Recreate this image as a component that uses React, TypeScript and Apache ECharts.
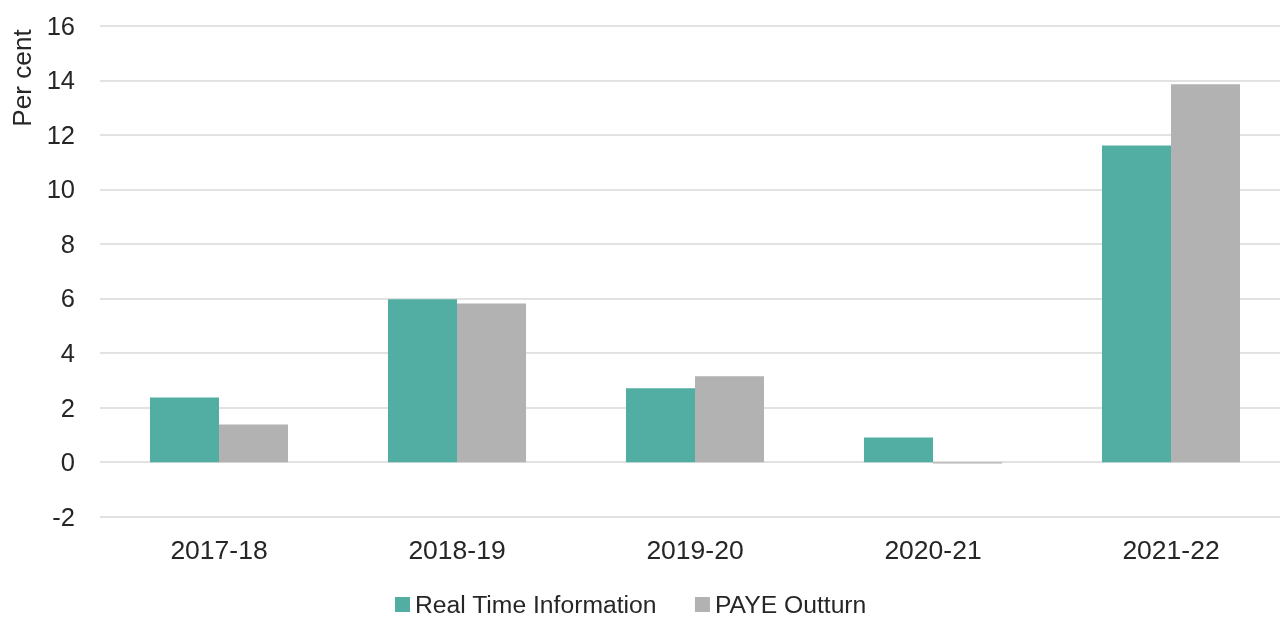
import React, { useEffect, useRef } from "react";
import * as echarts from "echarts";

const categories = ["2017-18", "2018-19", "2019-20", "2020-21", "2021-22"];
const rtiValues = [2.37, 5.97, 2.71, 0.9, 11.61];
const payeValues = [1.38, 5.82, 3.15, -0.05, 13.85];
const seriesNames = ["Real Time Information", "PAYE Outturn"];
const yAxisTitle = "Per cent";

const FONT = "Liberation Sans, Arial, sans-serif";
const TEXT = "#262626";

export default function App() {
  const ref = useRef<HTMLDivElement>(null);
  useEffect(() => {
    if (!ref.current) return;
    const chart = echarts.init(ref.current, undefined, { renderer: "svg" });
    chart.setOption({
      animation: false,
      textStyle: { fontFamily: FONT, color: TEXT },
      grid: {
        left: 100,
        width: 1190,
        top: 25.7,
        bottom: 100.3,
        containLabel: false,
        outerBoundsMode: "none",
      },
      legend: {
        data: seriesNames,
        left: 390,
        top: 587,
        itemWidth: 15,
        itemHeight: 15,
        itemGap: 38,
        icon: "rect",
        textStyle: { fontSize: 24.7, color: TEXT, fontFamily: FONT },
      },
      graphic: [
        {
          type: "text",
          x: 22,
          y: 78,
          rotation: Math.PI / 2,
          style: {
            text: yAxisTitle,
            fontSize: 26.2,
            fontFamily: FONT,
            fill: TEXT,
            textAlign: "center",
            textVerticalAlign: "middle",
          },
        },
      ],
      xAxis: {
        type: "category",
        data: categories,
        position: "bottom",
        axisLine: { show: false, onZero: false },
        axisTick: { show: false },
        axisLabel: { fontSize: 26.5, color: TEXT, fontFamily: FONT, margin: 20 },
      },
      yAxis: {
        type: "value",
        min: -2,
        max: 16,
        interval: 2,
        axisLine: { show: false },
        axisTick: { show: false },
        splitLine: { lineStyle: { color: "#d9d9d9", width: 1.5 } },
        axisLabel: { fontSize: 25.5, color: TEXT, fontFamily: FONT, margin: 25 },
      },
      series: [
        {
          name: seriesNames[0],
          type: "bar",
          data: rtiValues,
          barWidth: "29%",
          barGap: "0%",
          itemStyle: { color: "#52ada2" },
        },
        {
          name: seriesNames[1],
          type: "bar",
          data: payeValues,
          barWidth: "29%",
          barGap: "0%",
          itemStyle: { color: "#b2b2b2" },
        },
      ],
    });
    return () => chart.dispose();
  }, []);
  return (
    <div
      ref={ref}
      style={{ position: "fixed", left: 0, top: 0, width: 1280, height: 617 }}
    />
  );
}
